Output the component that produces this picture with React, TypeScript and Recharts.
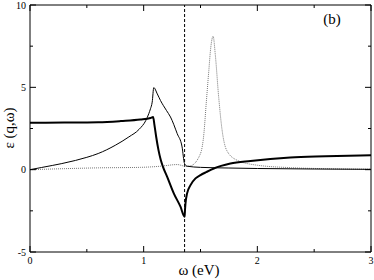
import { ComposedChart, Line, XAxis, YAxis, ReferenceLine } from "recharts";

const font = "'Liberation Serif', 'Times New Roman', serif";

// thick black curve
const thickX = [0, 0.3, 0.6, 0.8, 0.97, 1.06, 1.083, 1.095, 1.11, 1.13, 1.15, 1.17, 1.207, 1.265, 1.324, 1.36, 1.364, 1.368, 1.382, 1.412, 1.456, 1.5, 1.55, 1.617, 1.763, 1.94, 2.29, 2.6, 3.0];
const thickY = [2.85, 2.86, 2.88, 2.95, 3.04, 3.14, 3.2, 2.7, 2.0, 1.2, 0.6, 0.17, -0.44, -1.44, -2.25, -2.86, -2.4, -2.05, -1.44, -0.94, -0.53, -0.33, -0.15, 0.07, 0.37, 0.53, 0.74, 0.81, 0.88];

// thin black curve
const thinX = [0, 0.1, 0.2, 0.28, 0.4, 0.5, 0.6, 0.75, 0.87, 0.96, 1.02, 1.045, 1.06, 1.075, 1.089, 1.12, 1.148, 1.2, 1.236, 1.295, 1.338, 1.359, 1.382, 1.5, 1.75, 2.0, 2.5, 3.0];
const thinY = [0, 0.13, 0.26, 0.37, 0.56, 0.75, 0.98, 1.48, 1.99, 2.45, 3.0, 3.4, 3.7, 4.1, 4.98, 4.6, 4.2, 3.6, 3.2, 2.19, 1.38, 0.38, 0.21, 0.14, 0.1, 0.07, 0.04, 0.02];

// dotted grey curve
const dotX = [0, 0.3, 0.6, 0.97, 1.15, 1.295, 1.368, 1.41, 1.5, 1.53, 1.55, 1.573, 1.59, 1.611, 1.63, 1.66, 1.69, 1.73, 1.82, 2.0, 2.3, 2.6, 3.0];
const dotY = [0, 0.06, 0.11, 0.14, 0.21, 0.31, 0.21, 0.23, 0.98, 2.2, 4.0, 6.0, 7.4, 8.1, 7.0, 4.4, 2.4, 1.18, 0.58, 0.27, 0.12, 0.06, 0.03];

const plasmonX = 1.36;

const xTicks = [0, 0.5, 1, 1.5, 2, 2.5, 3];
const yTicks = [-5, -2.5, 0, 2.5, 5, 7.5, 10];

const toPoints = (xs: number[], ys: number[]) => xs.map((x, i) => ({ x, y: ys[i] }));
const thick = toPoints(thickX, thickY);
const thin = toPoints(thinX, thinY);
const dotted = toPoints(dotX, dotY);

const isMajor = (v: number) => Number.isInteger(v);

const BottomTick = (props: any) => {
  const { x, y, payload } = props;
  const major = isMajor(payload.value);
  return (
    <g>
      <line x1={x} y1={y} x2={x} y2={y - (major ? 6 : 3)} stroke="#000" />
      {major && (
        <text x={x} y={y + 11.5} textAnchor="middle" fontSize={10} fontFamily={font} fill="#000">
          {payload.value}
        </text>
      )}
    </g>
  );
};

const TopTick = (props: any) => {
  const { x, y, payload } = props;
  const major = isMajor(payload.value);
  return <line x1={x} y1={y} x2={x} y2={y + (major ? 6 : 3)} stroke="#000" />;
};

const LeftTick = (props: any) => {
  const { x, y, payload } = props;
  const major = isMajor(payload.value);
  return (
    <g>
      <line x1={x} y1={y} x2={x + (major ? 6 : 3)} y2={y} stroke="#000" />
      {major && (
        <text x={x - 4} y={y + 3.5} textAnchor="end" fontSize={10} fontFamily={font} fill="#000">
          {payload.value}
        </text>
      )}
    </g>
  );
};

const RightTick = (props: any) => {
  const { x, y, payload } = props;
  const major = isMajor(payload.value);
  return <line x1={x} y1={y} x2={x - (major ? 6 : 3)} y2={y} stroke="#000" />;
};

export default function App() {
  return (
    <div style={{ position: "absolute", left: 0, top: 0, background: "#fff", fontFamily: font }}>
      <ComposedChart width={374} height={280} margin={{ top: 4, right: 2, bottom: 27, left: 29 }}>
        <XAxis
          xAxisId="b"
          type="number"
          dataKey="x"
          domain={[0, 3]}
          ticks={xTicks}
          interval={0}
          tickSize={0}
          tickMargin={0}
          tickLine={false}
          tick={<BottomTick />}
          axisLine={{ stroke: "#000" }}
          height={1}
          allowDataOverflow
        />
        <XAxis
          xAxisId="t"
          orientation="top"
          type="number"
          dataKey="x"
          domain={[0, 3]}
          ticks={xTicks}
          interval={0}
          tickSize={0}
          tickMargin={0}
          tickLine={false}
          tick={<TopTick />}
          axisLine={{ stroke: "#000" }}
          height={1}
          allowDataOverflow
        />
        <YAxis
          yAxisId="l"
          type="number"
          domain={[-5, 10]}
          ticks={yTicks}
          interval={0}
          tickSize={0}
          tickMargin={0}
          tickLine={false}
          tick={<LeftTick />}
          axisLine={{ stroke: "#000" }}
          width={1}
          allowDataOverflow
        />
        <YAxis
          yAxisId="r"
          orientation="right"
          type="number"
          domain={[-5, 10]}
          ticks={yTicks}
          interval={0}
          tickSize={0}
          tickMargin={0}
          tickLine={false}
          tick={<RightTick />}
          axisLine={{ stroke: "#000" }}
          width={1}
          allowDataOverflow
        />
        <ReferenceLine xAxisId="b" yAxisId="l" x={plasmonX} stroke="#000" strokeDasharray="3 2" />
        <Line xAxisId="b" yAxisId="l" data={dotted} dataKey="y" type="monotone" stroke="#777" strokeWidth={1} strokeDasharray="1 1" dot={false} isAnimationActive={false} />
        <Line xAxisId="b" yAxisId="l" data={thin} dataKey="y" type="monotone" stroke="#000" strokeWidth={1} dot={false} isAnimationActive={false} />
        <Line xAxisId="b" yAxisId="l" data={thick} dataKey="y" type="monotone" stroke="#000" strokeWidth={2} dot={false} isAnimationActive={false} />
        <text x={199} y={275} textAnchor="middle" fontSize={15} fontFamily={font} fill="#000">
          ω (eV)
        </text>
        <text transform="translate(14,128) rotate(-90)" textAnchor="middle" fontSize={15} fontFamily={font} fill="#000">
          ε (q,ω)
        </text>
        <text x={332} y={24} textAnchor="middle" fontSize={15} fontFamily={font} fill="#000">
          (b)
        </text>
      </ComposedChart>
    </div>
  );
}
